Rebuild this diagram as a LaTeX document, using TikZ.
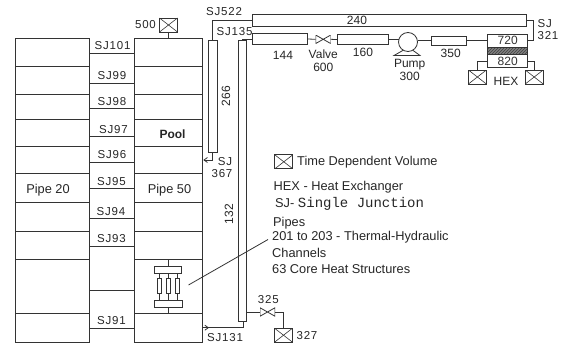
\documentclass[tikz,border=0pt]{standalone}
\usepackage{fontspec}
\setmainfont{Liberation Sans}
\newfontfamily\sjfont[LetterSpace=7]{Liberation Sans}
\newfontfamily\courfont{Liberation Mono}
\usetikzlibrary{arrows.meta, patterns}

\begin{document}
\begin{tikzpicture}[
      x=1pt, y=-1pt,
      font=\fontsize{12}{13}\selectfont,
      line/.style={draw, line width=0.8pt, black!80},
      pipe/.style={rectangle, draw, line width=0.8pt, black!80, inner sep=0pt, outer sep=0pt},
      tdv/.style={pipe, minimum width=18pt, minimum height=14pt, path picture={
          \draw[line width=0.6pt] (path picture bounding box.north west) -- (path picture bounding box.south east);
          \draw[line width=0.6pt] (path picture bounding box.south west) -- (path picture bounding box.north east);}},
      valve/.style={rectangle, inner sep=0pt, outer sep=0pt, minimum width=15pt, minimum height=8.5pt, path picture={
          \draw[line width=0.8pt, black!80] (path picture bounding box.north west) -- (path picture bounding box.south east)
            -- (path picture bounding box.north east) -- (path picture bounding box.south west) -- cycle;}},
      lab/.style={inner sep=0pt, black!85},
      sjlab/.style={inner sep=0pt, black!85, font=\fontsize{11.5}{12}\sjfont},
      note/.style={inner sep=0pt, anchor=west, black!85, font=\fontsize{12.8}{14}\selectfont},
      flow/.style={-{Straight Barb[length=3.5pt, width=5pt]}, line}
    ]
    \useasboundingbox (0,0) rectangle (564,345);

    % pipe 20 and pipe 50
    \foreach \ya/\yb in {38/66.5, 66.5/94.5, 94.5/119.5, 119.5/146, 146/173.5, 173.5/202, 202/231, 231/259.7, 259.7/313.7, 313.7/342.5} {
      \draw[line] (15,\ya) rectangle (89,\yb);
      \draw[line] (134,\ya) rectangle (202,\yb);
    }
    \foreach \y in {53, 83.5, 108, 136.5, 162, 188, 218, 246.5, 290, 328}
      \draw[line] (89,\y) -- (134,\y);

    \node[sjlab] (sj101) at (112.5,46) {SJ101};
    \node[sjlab] (sj99) at (112,75.5) {SJ99};
    \node[sjlab] (sj98) at (112,102) {SJ98};
    \node[sjlab] (sj97) at (113.5,129.5) {SJ97};
    \node[sjlab] (sj96) at (112,155) {SJ96};
    \node[sjlab] (sj95) at (111.5,182) {SJ95};
    \node[sjlab] (sj94) at (111,211.5) {SJ94};
    \node[sjlab] (sj93) at (111.5,238.5) {SJ93};
    \node[sjlab] (sj91) at (111.5,320.5) {SJ91};
    \node[lab, font=\fontsize{12.8}{14}\selectfont] (pipe20) at (48,190) {Pipe 20};
    \node[lab, font=\fontsize{12.8}{14}\selectfont] (pipe50) at (169.5,190.5) {Pipe 50};
    \node[lab, font=\fontsize{12}{13}\selectfont\bfseries] (pool) at (172.5,134) {Pool};

    % core
    \coordinate (coretop) at (168.5,259.7);
    \coordinate (corebot) at (168.5,313.7);
    \node[pipe, minimum width=27pt, minimum height=7pt] (plate1) at (168,269.5) {};
    \node[pipe, minimum width=28pt, minimum height=7.5pt] (plate2) at (168.5,303.7) {};
    \node[pipe, minimum width=4pt, minimum height=15pt] (ch201) at (159.5,286) {};
    \node[pipe, minimum width=4pt, minimum height=15pt] (ch202) at (168.5,286) {};
    \node[pipe, minimum width=4pt, minimum height=15pt] (ch203) at (177.5,286) {};
    \draw[line] (coretop) -- (coretop |- plate1.north);
    \draw[line] (corebot) -- (corebot |- plate2.south);
    \foreach \ch in {ch201, ch202, ch203} {
      \draw[line] (\ch.north) -- (\ch.north |- plate1.south);
      \draw[line] (\ch.south) -- (\ch.south |- plate2.north);
    }

    % volumes above and below
    \node[tdv] (tdv500) at (168.5,25) {};
    \node[sjlab] (lab500) at (145.5,24.5) {500};
    \coordinate (pooltop) at (168.5,38);
    \draw[line] (tdv500.south) -- (pooltop);

    % vertical pipes
    \node[pipe, minimum width=9.5pt, minimum height=112pt] (p266) at (212.7,96.5) {};
    \node[pipe, minimum width=8.5pt, minimum height=281pt] (p132) at (242.3,180.5) {};
    \node[lab, rotate=90] (lab266) at (226,96) {266};
    \node[lab, rotate=90] (lab132) at (229,214) {132};

    % top loop
    \node[pipe, minimum width=273.8pt, minimum height=12pt] (p240) at (389.4,20) {};
    \node[lab] (lab240) at (357,20.5) {240};
    \node[pipe, minimum width=55.2pt, minimum height=10.6pt] (p144) at (280.1,39) {};
    \node[lab] (lab144) at (283,55) {144};
    \node[valve] (v600) at (323.2,39.3) {};
    \node[lab, align=center] (lab600) at (323.3,60.3) {Valve\\600};
    \node[pipe, minimum width=51pt, minimum height=10.2pt] (p160) at (362.5,39.6) {};
    \node[lab] (lab160) at (363,52) {160};
    \node[circle, draw, line width=0.8pt, black!80, inner sep=0pt, outer sep=0pt, minimum size=19pt] (pump) at (408,42) {};
    \node[lab, align=center] (lab300) at (409.7,69.5) {Pump\\300};
    \node[pipe, minimum width=35pt, minimum height=9.7pt] (p350) at (448.8,40.8) {};
    \node[lab] (lab350) at (450.7,53) {350};

    % heat exchanger
    \node[pipe, minimum width=40pt, minimum height=13.7pt] (hx720) at (507.7,40.85) {720};
    \node[pipe, minimum width=40pt, minimum height=6.8pt, preaction={fill=black!50}, pattern=north east lines, pattern color=black!75] (hxwall) at (507.7,51.1) {};
    \node[pipe, minimum width=40pt, minimum height=13.2pt] (hx820) at (507.7,61.1) {820};
    \node[tdv] (tdvl) at (477.4,77) {};
    \node[tdv] (tdvr) at (534.2,77) {};
    \node[lab] (labhex) at (506,81) {HEX};
    \draw[line] (tdvl.north) |- (hx820.west);
    \draw[line] (tdvr.north) |- (hx820.east);

    \draw[line] (p240.west) -| (p266.north);
    \draw[line] (p144.west) -- ++(-10.5,0) coordinate (sj135a) -- (sj135a |- p132.north);
    \draw[line] (p144.east) -- (v600.west);
    \draw[line] (v600.east) -- (p160.west);
    \draw[line] (p160.east) -- (p160.east -| pump.west);
    \draw[line] (pump.east |- p350.west) -- (p350.west);
    \draw[line] (p350.east) -- (p350.east -| hx720.west);
    \draw[line] (p240.east) -- ++(7.4,0) coordinate (sj321a) -- (sj321a |- hx720.east) -- (hx720.east);
    \coordinate (pumpl) at (394,55.5);
    \coordinate (pumpr) at (420,55.5);
    \draw[line] (pump.240) -- (pumpl) -- (pumpr) -- (pump.300);

    \node[sjlab] (sj522) at (224,12) {SJ522};
    \node[sjlab] (sj135) at (234.5,31.5) {SJ135};
    \node[sjlab, align=left] (sj321) at (548,29.5) {SJ\\321};

    % junctions to pool
    \coordinate (sj367a) at (212.3,160);
    \coordinate (sj367b) at (203.3,160);
    \draw[line] (p266.south) -- (p266.south |- sj367a);
    \draw[flow] (p266.south |- sj367a) -- (sj367b);
    \node[sjlab] (sj367a-lab) at (225,162) {SJ};
    \node[sjlab] (sj367b-lab) at (222,174) {367};

    \coordinate (sj131a) at (203,327.7);
    \draw[line] ([xshift=1pt]p132.south) |- (sj131a);
    \draw[flow] (sj131a) -- ++(6,0);
    \node[sjlab] (sj131) at (225,337.5) {SJ131};

    % valve 325 and volume 327
    \node[valve] (v325) at (267.5,312) {};
    \node[tdv] (tdv327) at (283.5,335.2) {};
    \node[sjlab] (lab325) at (268.3,300) {325};
    \node[sjlab] (lab327) at (307,336) {327};
    \draw[line] (p132.east |- v325.west) -- (v325.west);
    \draw[line] (v325.east) -| (tdv327.north);

    % legend
    \node[tdv] (tdvkey) at (283.8,161.8) {};
    \node[note] (keytdv) at (297,162) {Time Dependent Volume};
    \node[note] (keyhex) at (273.5,187) {HEX - Heat Exchanger};
    \node[note] (keysj) at (275,204) {SJ- {\fontsize{14}{14}\courfont Single Junction}};
    \node[note] (keypipes) at (273,223.5) {Pipes};
    \node[note] (keycore) at (272,237) {201 to 203 - Thermal-Hydraulic};
    \node[note] (keychan) at (272,253) {Channels};
    \node[note] (keyhs) at (272,269) {63 Core Heat Structures};
    \coordinate (corept) at (188.5,285);
    \draw[line] (corept) -- ([shift={(-4,2.5)}]keycore.west);
  \end{tikzpicture}
\end{document}
